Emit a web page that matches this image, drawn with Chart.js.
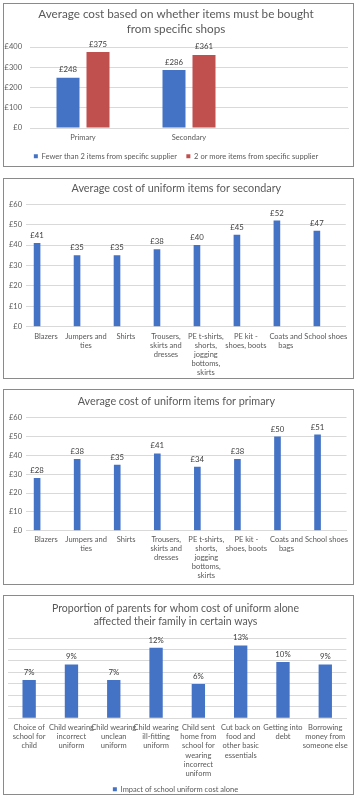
<!DOCTYPE html>
<html><head><meta charset="utf-8">
<script src="https://cdn.jsdelivr.net/npm/chart.js@4/dist/chart.umd.min.js"></script>
<style>
html,body{margin:0;padding:0;background:#fff;width:357px;height:800px;overflow:hidden;}
.box{position:absolute;border:1px solid #8a8a8a;box-sizing:border-box;background:#fff;}
canvas{position:absolute;}
</style></head><body>
<div class="box" style="left:3px;top:3px;width:351px;height:164px"></div>
<div class="box" style="left:3px;top:178px;width:351px;height:201px"></div>
<div class="box" style="left:3px;top:389px;width:351px;height:196px"></div>
<div class="box" style="left:3px;top:595px;width:351px;height:200px"></div>
<canvas id="c1" width="349" height="166" style="left:4px;top:4px"></canvas>
<canvas id="c2" width="349" height="200" style="left:4px;top:179px"></canvas>
<canvas id="c3" width="349" height="193" style="left:4px;top:390px"></canvas>
<canvas id="c4" width="349" height="207" style="left:4px;top:596px"></canvas>
<script>
// ---- data ----
const phaseLabels = ['Primary', 'Secondary', ''];
const fewerThan2Items = [248, 286, null];
const twoOrMoreItems = [375, 361, null];

const itemLabels = ['Blazers', ['Jumpers and', 'ties'], 'Shirts', ['Trousers,', 'skirts and', 'dresses'],
  ['PE t-shirts,', 'shorts,', 'jogging', 'bottoms,', 'skirts'], ['PE kit -', 'shoes, boots'], ['Coats and', 'bags'], 'School shoes'];
const secondaryCosts = [41, 35, 35, 38, 40, 45, 52, 47];
const primaryCosts = [28, 38, 35, 41, 34, 38, 50, 51];
const emptySeries = [null, null, null, null, null, null, null, null];
const costTicks = [0, 10, 20, 30, 40, 50, 60];
const shopTicks = [0, 100, 200, 300, 400];

const impactLabels = [['Choice of', 'school for', 'child'], ['Child wearing', 'incorrect', 'uniform'],
  ['Child wearing', 'unclean', 'uniform'], ['Child wearing', 'ill-fitting', 'uniform'],
  ['Child sent', 'home from', 'school for', 'wearing', 'incorrect', 'uniform'],
  ['Cut back on', 'food and', 'other basic', 'essentials'], ['Getting into', 'debt'],
  ['Borrowing', 'money from', 'someone else']];
const impactPercent = [6.7, 9.4, 6.7, 12.3, 6.0, 12.7, 9.8, 9.4];

// ---- styles ----
const FONT = 'Lato, "Open Sans", sans-serif';
const BLUE = '#4472C4';
const RED = '#C0504D';
const GRID = '#d9d9d9';
const TXT = '#595959';
const LBL = '#404040';

function valueLabels(offset, fmt) {
  return {
    id: 'valueLabels',
    afterDatasetsDraw(chart) {
      const ctx = chart.ctx;
      ctx.save();
      ctx.font = '7.8px ' + FONT;
      ctx.fillStyle = LBL;
      ctx.textAlign = 'center';
      ctx.textBaseline = 'middle';
      chart.data.datasets.forEach((ds, i) => {
        const meta = chart.getDatasetMeta(i);
        meta.data.forEach((el, j) => {
          const v = ds.data[j];
          if (v === null || v === undefined) return;
          ctx.fillText(fmt(v), el.x, el.y - offset);
        });
      });
      ctx.restore();
    }
  };
}

function titleOpts(text, size, lh, pt, pb) {
  return {display: true, text: text, color: TXT,
    font: {family: FONT, size: size, weight: 'normal', lineHeight: lh},
    padding: {top: pt, bottom: pb}};
}
const tickFont = {family: FONT, size: 7.5, lineHeight: 1.2};

// ---- chart 1 ----
new Chart(document.getElementById('c1'), {
  type: 'bar',
  data: {labels: phaseLabels, datasets: [
    {label: 'Fewer than 2 items from specific supplier', data: fewerThan2Items, backgroundColor: BLUE,
      categoryPercentage: 0.566, barPercentage: 0.767},
    {label: '2 or more items from specific supplier', data: twoOrMoreItems, backgroundColor: RED,
      categoryPercentage: 0.566, barPercentage: 0.767}
  ]},
  options: {
    responsive: false, animation: false,
    layout: {padding: {left: 0, right: 5, top: 0, bottom: 0}},
    plugins: {
      title: titleOpts(['Average cost based on whether items must be bought', 'from specific shops'], 11.7, 1.31, 2.65, 9.75),
      legend: {position: 'bottom', labels: {boxWidth: 4, boxHeight: 4, padding: 9.5, color: TXT, font: tickFont}},
      tooltip: {enabled: false}
    },
    scales: {
      x: {grid: {display: false, drawTicks: false}, border: {color: GRID}, ticks: {color: TXT, font: tickFont, padding: 5.5},
        afterFit(s) { s.height = 15; }},
      y: {min: 0, max: 400, afterBuildTicks(s) { s.ticks = shopTicks.map(v => ({value: v})); },
        ticks: {color: TXT, font: tickFont, padding: 8, callback: v => '£' + v},
        grid: {color: GRID, drawTicks: false}, border: {display: false},
        afterFit(s) { s.width = 26; }}
    }
  },
  plugins: [valueLabels(8, v => '£' + v)]
});

// ---- charts 2 & 3 ----
function itemChart(id, title, values, pt, pb, xHeight, xPad) {
  new Chart(document.getElementById(id), {
    type: 'bar',
    data: {labels: itemLabels, datasets: [
      {label: title, data: values, backgroundColor: BLUE, categoryPercentage: 0.892, barPercentage: 0.372},
      {label: '', data: emptySeries, backgroundColor: BLUE, categoryPercentage: 0.892, barPercentage: 0.372}
    ]},
    options: {
      responsive: false, animation: false,
      layout: {padding: {left: 0, right: 4.3, top: 0, bottom: 0}},
      plugins: {
        title: titleOpts(title, 10.8, 1.2, pt, pb),
        legend: {display: false},
        tooltip: {enabled: false}
      },
      scales: {
        x: {grid: {display: false, drawTicks: false}, border: {color: GRID},
          ticks: {color: TXT, font: tickFont, padding: xPad, maxRotation: 0, autoSkip: false},
          afterFit(s) { s.height = xHeight; }},
        y: {min: 0, max: 60, afterBuildTicks(s) { s.ticks = costTicks.map(v => ({value: v})); },
          ticks: {color: TXT, font: tickFont, padding: 4, callback: v => '£' + v},
          grid: {color: GRID, drawTicks: false}, border: {display: false},
          afterFit(s) { s.width = 22; }}
      }
    },
    plugins: [valueLabels(7.5, v => '£' + v)]
  });
}
itemChart('c2', 'Average cost of uniform items for secondary', secondaryCosts, 2.8, 9.5, 52.3, 5.5);
itemChart('c3', 'Average cost of uniform items for primary', primaryCosts, 5.2, 9.5, 52.3, 4.8);

// ---- chart 4 ----
new Chart(document.getElementById('c4'), {
  type: 'bar',
  data: {labels: impactLabels, datasets: [
    {label: 'Impact of school uniform cost alone', data: impactPercent, backgroundColor: BLUE,
      categoryPercentage: 0.8, barPercentage: 0.394}
  ]},
  options: {
    responsive: false, animation: false,
    layout: {padding: {left: 0, right: 6, top: 0, bottom: 0}},
    plugins: {
      title: titleOpts(['Proportion of parents for whom cost of uniform alone', 'affected their family in certain ways'], 10.5, 1.21, 6.65, 9.95),
      legend: {position: 'bottom', labels: {boxWidth: 4, boxHeight: 4, padding: 8, color: TXT, font: tickFont}},
      tooltip: {enabled: false}
    },
    scales: {
      x: {grid: {display: false, drawTicks: false}, border: {color: GRID},
        ticks: {color: TXT, font: {family: FONT, size: 7.5, lineHeight: 1.22}, padding: 4.9, maxRotation: 0, autoSkip: false},
        afterFit(s) { s.height = 59.2; }},
      y: {min: 0, max: 14, ticks: {display: false, stepSize: 2},
        grid: {color: GRID, drawTicks: false}, border: {display: false},
        afterFit(s) { s.width = 4; }}
    }
  },
  plugins: [valueLabels(7.7, v => Math.round(v) + '%')]
});
</script>
</body></html>
